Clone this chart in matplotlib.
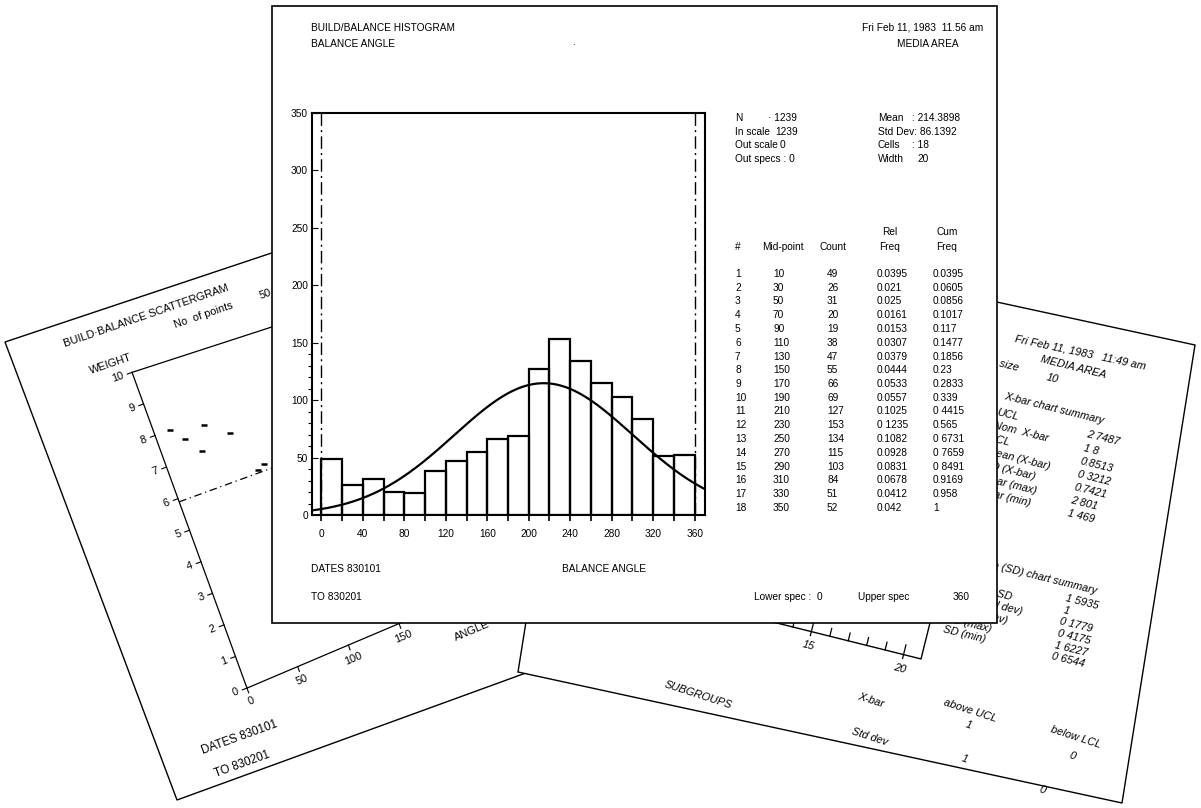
import numpy as np
import matplotlib.pyplot as plt
from matplotlib.patches import Polygon
from matplotlib.transforms import Affine2D

plt.rcParams['font.family'] = ['Liberation Sans', 'DejaVu Sans']

# main sheet: balance angle histogram
mid_points = [10, 30, 50, 70, 90, 110, 130, 150, 170, 190, 210, 230, 250, 270, 290, 310, 330, 350]
counts = [49, 26, 31, 20, 19, 38, 47, 55, 66, 69, 127, 153, 134, 115, 103, 84, 51, 52]
rel_freq = ["0.0395", "0.021", "0.025", "0.0161", "0.0153", "0.0307", "0.0379", "0.0444", "0.0533",
            "0.0557", "0.1025", "0 1235", "0.1082", "0.0928", "0.0831", "0.0678", "0.0412", "0.042"]
cum_freq = ["0.0395", "0.0605", "0.0856", "0.1017", "0.117", "0.1477", "0.1856", "0.23", "0.2833",
            "0.339", "0 4415", "0.565", "0 6731", "0 7659", "0 8491", "0.9169", "0.958", "1"]
n_points = 1239
mean_angle = 214.3898
std_dev = 86.1392
cell_width = 20
lower_spec, upper_spec = 0, 360

# sheet behind on the left: scattergram
scat_angle = [14, 25, 45, 35, 65, 77, 84]
scat_weight = [8.0, 7.6, 7.8, 7.1, 7.3, 6.0, 6.1]
weight_ticks = list(range(11))
angle_ticks = [0, 50, 100, 150, 200, 250]

# sheet behind on the right: x-bar chart summary
xbar_labels = ["UCL", "Nom  X-bar", "LCL", "Mean (X-bar)", "SD (X-bar)", "X-bar (max)", "X-bar (min)"]
xbar_values = ["2 7487", "1 8", "0.8513", "0 3212", "0.7421", "2 801", "1 469"]
sd_labels = ["UCL", "Nominal SD", "Mean (std dev)", "SD (std dev)", "SD (max)", "SD (min)"]
sd_values = ["1 5935", "1", "0 1779", "0 4175", "1 6227", "0 6544"]
subgroup_ticks = list(range(11, 21))

FS = 7.3
FS_SIDE = 7.9
W, H = 1201, 808
fig = plt.figure(figsize=(W / 100, H / 100), dpi=100)
bg = fig.add_axes([0, 0, 1, 1])
bg.set_xlim(0, W)
bg.set_ylim(H, 0)
bg.axis('off')

# ---------- left sheet (rotated) ----------
bg.add_patch(Polygon([(5, 342), (574, 152), (740, 595), (177, 800)], closed=True,
                     fc='white', ec='black', lw=1, zorder=1))
left_tf = Affine2D().rotate_deg(-20).translate(5, 342) + bg.transData


def ltext(u, v, s, ha='left', rot=20, size=FS_SIDE):
    bg.text(u, v, s, transform=left_tf, rotation=rot, rotation_mode='anchor', ha=ha, va='center',
            fontsize=size, zorder=2)


ltext(55, 22, "BUILD\u00b7BALANCE SCATTERGRAM", rot=19)
ltext(165, 42, "No  of points", rot=19)
ltext(255, 44, "50", rot=19)
ltext(70, 57, "WEIGHT", rot=19)
ltext(45, 452, "DATES 830101", size=8.4)
ltext(50, 478, "TO 830201", size=8.4)

# scatter frame: x axis a little steeper than the sheet (photo perspective)
x_slope = np.tan(np.radians(3))
top_slope = np.tan(np.radians(2))
bg.plot([109, 109], [72, 408], color='black', lw=0.9, transform=left_tf, zorder=2)
bg.plot([109, 580], [408, 408 - 471 * x_slope], color='black', lw=0.9, transform=left_tf, zorder=2)
bg.plot([109, 580], [72, 72 + 471 * top_slope], color='black', lw=0.9, transform=left_tf, zorder=2)
for w in weight_ticks:
    v = 408 - 33.6 * w
    bg.plot([104, 109], [v, v], color='black', lw=0.8, transform=left_tf, zorder=2)
    ltext(100, v, str(w), ha='right')
for a in angle_ticks:
    u = 109 + 1.1 * a
    v = 408 - 1.1 * a * x_slope
    bg.plot([u, u], [v, v + 5], color='black', lw=0.8, transform=left_tf, zorder=2)
    ltext(u, v + 14, str(a), ha='center', rot=23)
ltext(340, 431, "ANGLE", ha='center', rot=23)

scat_tf = Affine2D().scale(1.1, -33.6).translate(109, 408) + left_tf
bg.plot(scat_angle, scat_weight, transform=scat_tf, ls='none', marker='_', ms=4, mew=1.8,
        color='black', zorder=2)
bg.plot([0, 300], [5.9, 5.9], transform=scat_tf, color='black', lw=0.9, ls=(0, (6, 3, 1, 3)), zorder=2)

# ---------- right sheet (rotated) ----------
bg.add_patch(Polygon([(591, 214), (1195, 345), (1122, 803), (518, 672)], closed=True,
                     fc='white', ec='black', lw=1, zorder=3))
right_tf = Affine2D().rotate_deg(14).translate(997, 412) + bg.transData


def rtext(u, v, s, ha='left', rot=-14):
    bg.text(u, v, s, transform=right_tf, rotation=rot, rotation_mode='anchor', ha=ha, va='center',
            fontsize=FS_SIDE, style='italic', zorder=4)


rtext(0, -76, "Fri Feb 11, 1983   11:49 am", rot=-12)
rtext(30, -62, "MEDIA AREA")
rtext(10, -48, "Subgroup size", ha='right')
rtext(40, -46, "10")
rtext(3, -17, "X-bar chart summary")
for i, (lab, val) in enumerate(zip(xbar_labels, xbar_values)):
    rtext(0, 13.5 * i, lab)
    rtext(93, 13.5 * i, val)
rtext(8, 150, "Sigma (SD) chart summary")
for i, (lab, val) in enumerate(zip(sd_labels, sd_values)):
    rtext(0, 164 + 12 * i, lab)
    rtext(112, 164 + 12 * i, val)

bg.plot([-420, -14, -14], [258, 258, 60], color='black', lw=1.0, transform=right_tf, zorder=4)
for k in subgroup_ticks:
    u = -127 + 19 * (k - 15)
    top = 250 if k % 5 else 248
    bot = 258 if k % 5 else 262
    bg.plot([u, u], [top, bot], color='black', lw=0.9, transform=right_tf, zorder=4)
    if k % 5 == 0 and k >= 15:
        rtext(u, 272, str(k), ha='center')

rtext(-222, 347, "SUBGROUPS", ha='center', rot=-18)
rtext(-53, 310, "X-bar", ha='center', rot=-18)
rtext(-45, 346, "Std dev", ha='center', rot=-18)
rtext(46, 296, "above UCL", ha='center', rot=-18)
rtext(155, 297, "below LCL", ha='center', rot=-18)
rtext(48, 311, "1", ha='center', rot=-18)
rtext(156, 316, "0", ha='center', rot=-18)
rtext(53, 345, "1", ha='center', rot=-18)
rtext(135, 356, "0", ha='center', rot=-18)

# ---------- main sheet ----------
bg.add_patch(Polygon([(272, 6), (997, 6), (997, 623), (272, 623)], closed=True,
                     fc='white', ec='black', lw=1.2, zorder=5))


def mtext(x, y, s, ha='left'):
    bg.text(x, y, s, ha=ha, va='center', fontsize=FS, zorder=6)


mtext(311, 28, "BUILD/BALANCE HISTOGRAM")
mtext(311, 44, "BALANCE ANGLE")
mtext(572, 42, ".")
mtext(983, 28, "Fri Feb 11, 1983  11.56 am", ha='right')
mtext(928, 44, "MEDIA AREA", ha='center')

mtext(735, 118, "N")
mtext(768, 118, "\u00b7 1239")
mtext(735, 132, "In scale")
mtext(775, 132, "1239")
mtext(735, 145, "Out scale")
mtext(780, 145, "0")
mtext(735, 159, "Out specs : 0")
mtext(878, 118, "Mean")
mtext(912, 118, ": 214.3898")
mtext(878, 132, "Std Dev: 86.1392")
mtext(878, 145, "Cells")
mtext(912, 145, ": 18")
mtext(878, 159, "Width")
mtext(917, 159, "20")

mtext(890, 232, "Rel", ha='center')
mtext(947, 232, "Cum", ha='center')
mtext(735, 247, "#")
mtext(762, 247, "Mid-point")
mtext(820, 247, "Count")
mtext(890, 247, "Freq", ha='center')
mtext(947, 247, "Freq", ha='center')
for i in range(len(mid_points)):
    y = 274 + 13.75 * i
    mtext(735, y, str(i + 1))
    mtext(773, y, str(mid_points[i]))
    mtext(827, y, str(counts[i]))
    mtext(877, y, rel_freq[i])
    mtext(933, y, cum_freq[i])

mtext(311, 569, "DATES 830101")
mtext(311, 597, "TO 830201")
mtext(604, 569, "BALANCE ANGLE", ha='center')
mtext(754, 597, "Lower spec :  %d" % lower_spec)
mtext(858, 597, "Upper spec")
mtext(970, 597, str(upper_spec), ha='right')

# histogram axes
ax = fig.add_axes([312 / W, 1 - 515 / H, (705 - 312) / W, (515 - 113) / H])
ax.set_facecolor('white')
left_edges = np.array(mid_points) - cell_width / 2
ax.bar(left_edges, counts, width=cell_width, align='edge', fill=False, edgecolor='black', linewidth=1.6)
xs = np.linspace(-9, 370, 300)
fit = n_points * cell_width / (std_dev * np.sqrt(2 * np.pi)) * np.exp(-0.5 * ((xs - mean_angle) / std_dev) ** 2)
ax.plot(xs, fit, color='black', lw=1.6)
for s in (lower_spec, upper_spec):
    ax.axvline(s, color='black', lw=1.0, ls=(0, (9, 3, 1.5, 3)))
ax.set_xlim(-9, 370)
ax.set_ylim(0, 350)
ax.set_xticks(range(0, 361, 40))
ax.set_xticks(range(0, 361, 20), minor=True)
ax.set_yticks(range(0, 351, 50))
ax.set_yticks(range(0, 151, 10), minor=True)
ax.tick_params(axis='x', which='both', direction='out', length=4, width=1.2, pad=6, labelsize=FS)
ax.tick_params(axis='y', which='major', direction='in', length=4, pad=3, labelsize=FS)
ax.tick_params(axis='y', which='minor', direction='out', length=3, width=0.8)
for sp in ax.spines.values():
    sp.set_linewidth(1.5)

fig.savefig("out.png", dpi=100)
